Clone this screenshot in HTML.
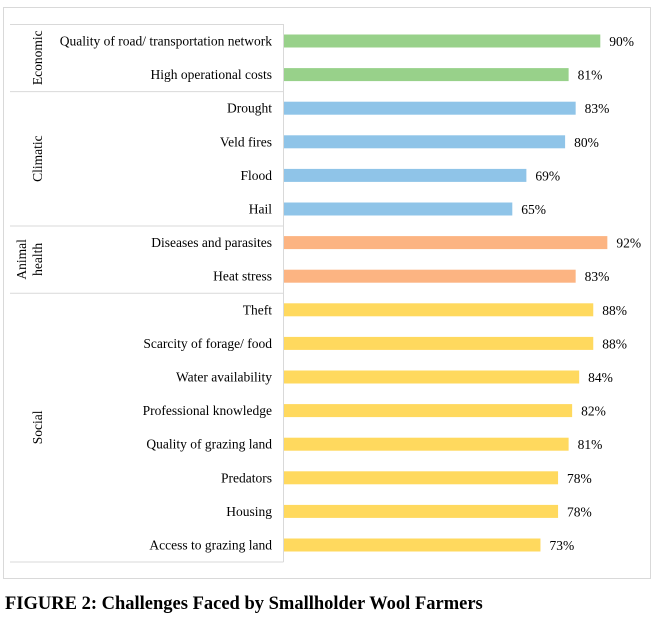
<!DOCTYPE html>
<html><head><meta charset="utf-8"><style>
body{margin:0;width:659px;height:617px;background:#fff;overflow:hidden;font-family:"Liberation Serif",serif;}
svg text{font-family:"Liberation Serif",serif;}
</style></head><body>
<svg id="chart" width="659" height="617" xmlns="http://www.w3.org/2000/svg">
<rect x="3.5" y="7.5" width="647" height="571" fill="none" stroke="#d9d9d9"/>
<g id="table"></g>
<g id="bars"></g>
<text x="5" y="609" font-size="18.5" font-weight="bold">FIGURE 2: Challenges Faced by Smallholder Wool Farmers</text>
</svg>
<script>
const categories=["Quality of road/ transportation network","High operational costs","Drought","Veld fires","Flood","Hail","Diseases and parasites","Heat stress","Theft","Scarcity of forage/ food","Water availability","Professional knowledge","Quality of grazing land","Predators","Housing","Access to grazing land"];
const values=[90,81,83,80,69,65,92,83,88,88,84,82,81,78,78,73];
const groupNames=["Economic","Climatic","Animal health","Social"];
const groupSizes=[2,4,2,8];
const groupColors=["#98d18a","#8fc4e8","#fcb482","#ffd95e"];
const NS="http://www.w3.org/2000/svg";
const x0=283.5,pxPer=3.52,yTop=24,rowH=33.6;
const xs=v=>x0+v*pxPer;
const yc=i=>yTop+17+i*rowH;
function mk(tag,attrs,parent){const e=document.createElementNS(NS,tag);for(const k in attrs)e.setAttribute(k,attrs[k]);parent.appendChild(e);return e;}
const table=document.getElementById('table'),bars=document.getElementById('bars');
const tableBottom=yc(categories.length-1)+17;
let l=mk('line',{x1:x0,x2:x0,y1:yTop,y2:tableBottom,stroke:'#d9d9d9'},table);


l=mk('line',{x1:10,x2:x0,y1:yTop+0.5,y2:yTop+0.5,stroke:'#d9d9d9'},table);


let idx=0;
groupNames.forEach((g,gi)=>{
  const start=idx,end=idx+groupSizes[gi];
  const yB=yc(end-1)+17;
  const ln=mk('line',{x1:10,x2:x0,y1:yB,y2:yB,stroke:'#d9d9d9'},table);
  
  
  const ymid=(yc(start)-17+yB)/2;
  const parts=g.split(' ');
  parts.forEach((p,pi)=>{
    const bx=parts.length===1?42:(pi===0?26:42);
    const t=mk('text',{x:0,y:0,'font-size':13.5,'text-anchor':'middle',transform:`translate(${bx},${ymid}) rotate(-90)`},table);
    t.textContent=p;
    
    
  });
  for(let i=start;i<end;i++){
    const y=yc(i);
    const lt=mk('text',{x:272,y:y+4.5,'font-size':13.5,'text-anchor':'end'},table);
    lt.textContent=categories[i];
    
    
    const r=mk('rect',{x:x0+0.5,y:y-6.5,width:xs(values[i])-x0-0.5,height:13,fill:groupColors[gi]},bars);
    
    
    const vt=mk('text',{x:xs(values[i])+9,y:y+5,'font-size':13.5},bars);
    vt.textContent=values[i]+'%';
    
    
  }
  idx=end;
});
</script>
</body></html>
